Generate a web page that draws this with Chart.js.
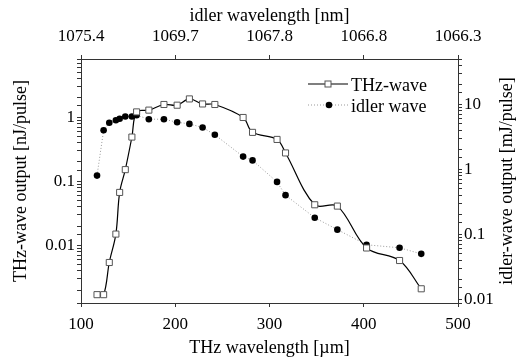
<!DOCTYPE html>
<html>
<head>
<meta charset="utf-8">
<script src="https://cdn.jsdelivr.net/npm/chart.js@4.4.0/dist/chart.umd.min.js"></script>
<style>
  html, body { margin: 0; padding: 0; background: #fff; }
  #wrap { width: 523px; height: 361px; }
</style>
</head>
<body>
<div id="wrap"><canvas id="chart" width="523" height="361"></canvas></div>
<script>
// THz wavelength [um], shared by both series
const wavelength = [117, 124, 130, 137, 141, 147, 154, 159, 172, 188, 202, 215, 229, 242, 272, 282, 308, 317, 348, 372, 403, 438, 461];
// THz-wave output [nJ/pulse]
const thzOutput = [0.0017, 0.0017, 0.0054, 0.015, 0.067, 0.152, 0.49, 1.21, 1.29, 1.58, 1.54, 1.93, 1.61, 1.58, 0.99, 0.58, 0.45, 0.277, 0.043, 0.041, 0.0091, 0.0058, 0.0021];
// idler-wave output [mJ/pulse]
const idlerOutput = [0.80, 3.98, 5.2, 5.7, 6.0, 6.5, 6.5, 6.8, 5.9, 5.9, 5.3, 5.0, 4.4, 3.4, 1.57, 1.37, 0.64, 0.40, 0.18, 0.118, 0.069, 0.062, 0.050];

const xTicks = [100, 200, 300, 400, 500];
const idlerWavelengthLabels = ['1075.4', '1069.7', '1067.8', '1066.8', '1066.3'];

const FONT = 'Liberation Serif';
const axisColor = '#333';

function decadeLabel(v) {
  const l = Math.log10(v);
  if (Math.abs(l - Math.round(l)) > 1e-6) return '';
  return String(Number(v.toPrecision(1)));
}

const tickFont = { family: FONT, size: 17 };
const titleFont = { family: FONT, size: 18 };

const legendAndTitle = {
  id: 'legendAndTitle',
  afterDraw(chart) {
    const ctx = chart.ctx;
    ctx.save();
    // legend
    ctx.strokeStyle = '#000';
    ctx.lineWidth = 1.2;
    ctx.beginPath();
    ctx.moveTo(308, 84); ctx.lineTo(348, 84);
    ctx.stroke();
    ctx.fillStyle = '#fff';
    ctx.strokeStyle = '#555';
    ctx.lineWidth = 1;
    ctx.fillRect(325, 81, 6, 6);
    ctx.strokeRect(325, 81, 6, 6);

    ctx.strokeStyle = '#999';
    ctx.setLineDash([1, 2]);
    ctx.beginPath();
    ctx.moveTo(308, 105); ctx.lineTo(348, 105);
    ctx.stroke();
    ctx.setLineDash([]);
    ctx.fillStyle = '#000';
    ctx.beginPath();
    ctx.arc(329, 105, 3.3, 0, Math.PI * 2);
    ctx.fill();

    ctx.font = '18px "' + FONT + '"';
    ctx.textBaseline = 'middle';
    ctx.textAlign = 'left';
    ctx.fillText('THz-wave', 351, 86);
    ctx.fillText('idler wave', 351, 107);

    // right axis title, reading bottom to top
    ctx.translate(507, 181);
    ctx.rotate(-Math.PI / 2);
    ctx.textAlign = 'center';
    ctx.fillText('idler-wave output [mJ/pulse]', 0, 0);
    ctx.restore();
  }
};

new Chart(document.getElementById('chart'), {
  type: 'line',
  data: {
    labels: wavelength,
    datasets: [
      {
        label: 'THz-wave',
        data: wavelength.map((x, i) => ({ x: x, y: thzOutput[i] })),
        yAxisID: 'y',
        borderColor: '#000',
        borderWidth: 1.2,
        tension: 0.35,
        pointStyle: 'rect',
        pointRadius: 4.3,
        pointBackgroundColor: '#fff',
        pointBorderColor: '#555',
        pointBorderWidth: 1,
        fill: false
      },
      {
        label: 'idler wave',
        data: wavelength.map((x, i) => ({ x: x, y: idlerOutput[i] })),
        yAxisID: 'y2',
        borderColor: '#999',
        borderWidth: 1,
        borderDash: [1, 2],
        tension: 0,
        pointStyle: 'circle',
        pointRadius: 3.3,
        pointBackgroundColor: '#000',
        pointBorderColor: '#000',
        pointBorderWidth: 0,
        fill: false
      }
    ]
  },
  options: {
    responsive: false,
    animation: false,
    layout: { padding: 0 },
    plugins: {
      legend: { display: false },
      tooltip: { enabled: false }
    },
    scales: {
      x: {
        type: 'linear',
        position: 'bottom',
        min: 100,
        max: 500,
        afterFit: s => { s.height = 58; },
        afterBuildTicks: s => { s.ticks = xTicks.map(v => ({ value: v })); },
        ticks: { font: tickFont, color: '#000', padding: 7, maxRotation: 0 },
        grid: { drawOnChartArea: false, tickLength: 4, color: axisColor },
        border: { color: axisColor },
        title: { display: true, text: 'THz wavelength [µm]', font: titleFont, color: '#000', padding: { top: 0, bottom: 2 } }
      },
      x2: {
        type: 'linear',
        position: 'top',
        min: 100,
        max: 500,
        afterFit: s => { s.height = 59; },
        afterBuildTicks: s => { s.ticks = xTicks.map(v => ({ value: v })); },
        ticks: {
          font: tickFont, color: '#000', padding: 8, maxRotation: 0,
          callback: v => idlerWavelengthLabels[xTicks.indexOf(v)]
        },
        grid: { drawOnChartArea: false, tickLength: 4, color: axisColor },
        border: { color: axisColor },
        title: { display: true, text: 'idler wavelength [nm]', font: titleFont, color: '#000', padding: { top: 5, bottom: 0 } }
      },
      y: {
        type: 'logarithmic',
        position: 'left',
        min: 0.00126,
        max: 8.1,
        afterFit: s => { s.width = 81; },
        ticks: { font: tickFont, color: '#000', padding: 2, autoSkip: false, callback: decadeLabel },
        grid: { drawOnChartArea: false, tickLength: 4, color: axisColor },
        border: { color: axisColor },
        title: { display: true, text: 'THz-wave output [nJ/pulse]', font: titleFont, color: '#000', padding: { top: 10, bottom: 0 } }
      },
      y2: {
        type: 'logarithmic',
        position: 'right',
        min: 0.00877,
        max: 49.8,
        afterFit: s => { s.width = 65; },
        ticks: { font: tickFont, color: '#000', padding: 2, autoSkip: false, callback: decadeLabel },
        grid: { drawOnChartArea: false, tickLength: 4, color: axisColor },
        border: { color: axisColor },
        title: { display: false }
      }
    }
  },
  plugins: [legendAndTitle]
});
</script>
</body>
</html>
